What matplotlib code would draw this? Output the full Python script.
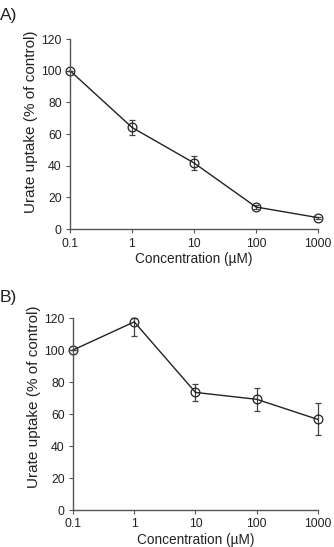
import numpy as np
import matplotlib.pyplot as plt

plt.rcParams['font.family'] = ['Liberation Sans', 'DejaVu Sans']

# 数据
conc = [0.1, 1, 10, 100, 1000]
tick_labels = ['0.1', '1', '10', '100', '1000']

uptake_a = [100, 64.2, 41.8, 14.0, 7.3]
err_a = [0, 4.6, 4.4, 1.0, 0.6]

uptake_b = [100, 117.6, 73.5, 69.2, 56.6]
err_b = [0, 9.0, 5.2, 7.3, 10.0]

fig = plt.figure(figsize=(3.34, 5.47), dpi=100)
ax_a = fig.add_axes([0.2096, 0.581, 0.7424, 0.3477])
ax_b = fig.add_axes([0.2186, 0.0676, 0.7334, 0.351])

axis_col = '#555555'
text_col = '#222222'


def draw_panel(ax, y, yerr, label_y):
    y = np.array(y)
    yerr = np.array(yerr)
    # 上方误差线截到 120
    upper = np.minimum(yerr, 120 - y)
    ax.errorbar(conc, y, yerr=[yerr, upper], fmt='none',
                ecolor='#444444', elinewidth=0.9, capsize=2, capthick=0.9,
                clip_on=False)
    ax.plot(conc, y, color='#222222', lw=1.0, marker='o',
            ms=6.3, mfc='none', mec='#222222', mew=0.9, clip_on=False)
    ax.set_xscale('log')
    ax.set_xlim(0.1, 1000)
    ax.set_ylim(0, 120)
    ax.set_xticks(conc)
    ax.set_xticklabels(tick_labels)
    ax.minorticks_off()
    ax.set_yticks(np.arange(0, 121, 20))
    for s in ['top', 'right']:
        ax.spines[s].set_visible(False)
    for s in ['left', 'bottom']:
        ax.spines[s].set_color(axis_col)
        ax.spines[s].set_linewidth(1.0)
    ax.tick_params(direction='out', length=3, width=0.8, color=axis_col,
                   labelsize=8.8, labelcolor=text_col, pad=3)
    ax.set_xlabel('Concentration (µM)', fontsize=9.8, color=text_col, labelpad=2)
    ax.set_ylabel('Urate uptake (% of control)', fontsize=11, color=text_col)
    ax.yaxis.set_label_coords(-0.13, label_y)


draw_panel(ax_a, uptake_a, err_a, 0.566)
draw_panel(ax_b, uptake_b, err_b, 0.59)

fig.text(0.0, 0.972, 'A)', fontsize=12.5, color=text_col, va='center')
fig.text(0.0, 0.457, 'B)', fontsize=12.5, color=text_col, va='center')

plt.savefig('out.png', dpi=100)
